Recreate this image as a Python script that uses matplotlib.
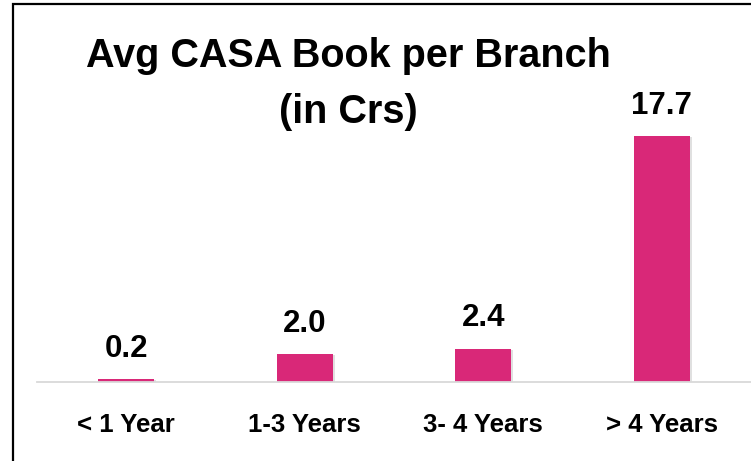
import matplotlib.pyplot as plt
import matplotlib.patches as patches

# ── Data ──────────────────────────────────────────────────────────────────────
categories = ["< 1 Year", "1-3 Years", "3- 4 Years", "> 4 Years"]
values = [0.2, 2.0, 2.4, 17.7]
value_labels = ["0.2", "2.0", "2.4", "17.7"]
title_lines = ["Avg CASA Book per Branch", "(in Crs)"]

BAR_COLOR = "#D92878"
plt.rcParams["font.family"] = ["Liberation Sans", "DejaVu Sans"]

W, H, DPI = 751, 461, 100
fig = plt.figure(figsize=(W / DPI, H / DPI), dpi=DPI)

# axes: baseline at y=382px, left at x=37px, runs to the right edge
base_px = 382
top_px = 4
ax = fig.add_axes([37 / W, 1 - base_px / H, 1 - 37 / W, (base_px - top_px) / H])
px_per_unit = 246 / 17.7
ax.set_ylim(0, (base_px - top_px) / px_per_unit)
ax.set_xlim(-0.5, 3.5)

x = list(range(len(categories)))
# soft shadow under the bars
ax.bar([i + 0.012 for i in x], values, width=0.314, color="#000000", alpha=0.12,
       zorder=1, bottom=-0.08)
ax.bar(x, values, width=0.314, color=BAR_COLOR, zorder=2)

for i, (v, lab) in enumerate(zip(values, value_labels)):
    ax.annotate(lab, (i, v), xytext=(0, 16), textcoords="offset points",
                ha="center", va="baseline", fontsize=22.5, fontweight="bold",
                color="black")

ax.set_xticks(x)
ax.set_xticklabels(categories, fontsize=18.5, fontweight="bold")
ax.tick_params(axis="x", length=0, pad=22)
ax.set_yticks([])
for s in ["top", "right", "left"]:
    ax.spines[s].set_visible(False)
ax.spines["bottom"].set_color("#D9D9D9")
ax.spines["bottom"].set_linewidth(1.3)
ax.patch.set_alpha(0)

# title, two lines
for line, base_y in zip(title_lines, [67, 123]):
    fig.text(348 / W, 1 - base_y / H, line, ha="center", va="baseline",
             fontsize=28.5, fontweight="bold")

# outer frame (only left and top edges fall inside the picture)
frame = patches.Rectangle((13 / W, -0.1), 1.2, 1 - 4 / H + 0.1,
                          transform=fig.transFigure, fill=False,
                          edgecolor="black", linewidth=1.6)
fig.patches.append(frame)

fig.savefig("out.png", dpi=DPI)
